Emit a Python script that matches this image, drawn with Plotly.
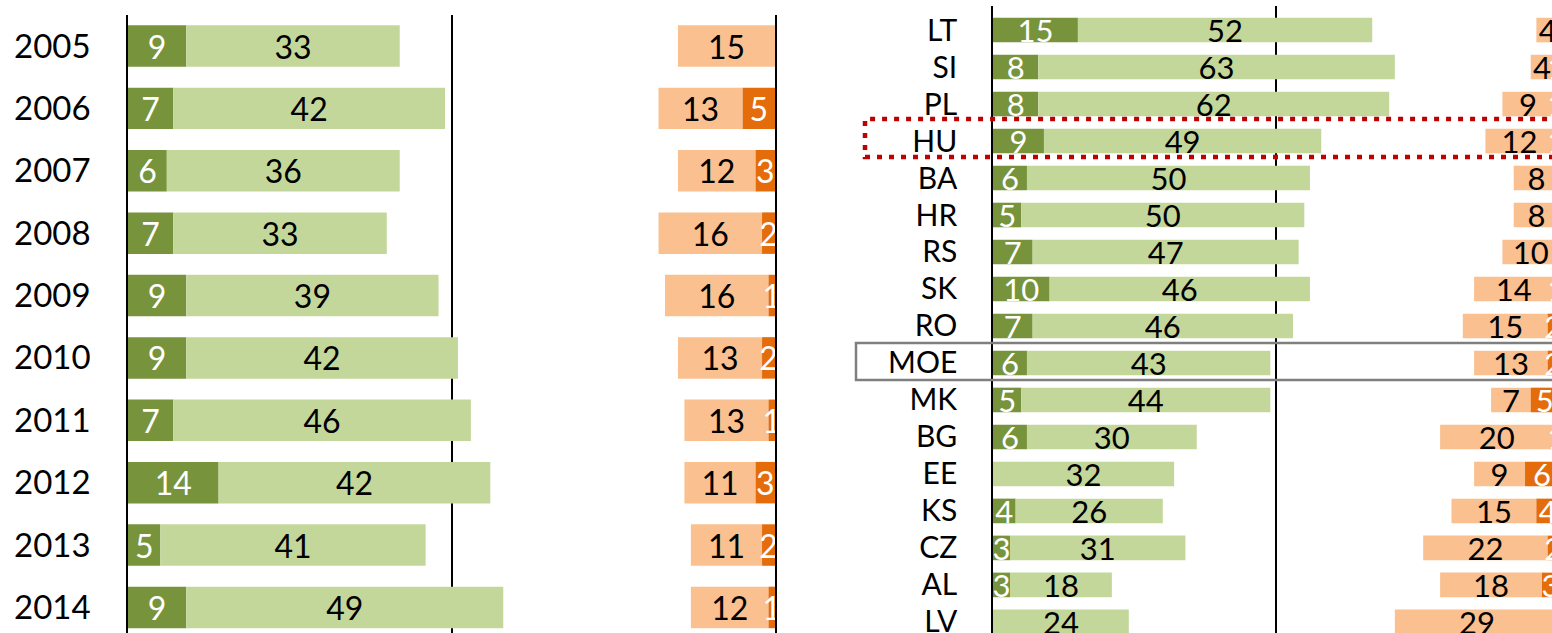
import plotly.graph_objects as go

# ---------------- data ----------------
years = ["2005", "2006", "2007", "2008", "2009", "2010", "2011", "2012", "2013", "2014"]
yr_dark_green = [9, 7, 6, 7, 9, 9, 7, 14, 5, 9]
yr_light_green = [33, 42, 36, 33, 39, 42, 46, 42, 41, 49]
yr_light_orange = [15, 13, 12, 16, 16, 13, 13, 11, 11, 12]
yr_dark_orange = [0, 5, 3, 2, 1, 2, 1, 3, 2, 1]

countries = ["LT", "SI", "PL", "HU", "BA", "HR", "RS", "SK", "RO", "MOE",
             "MK", "BG", "EE", "KS", "CZ", "AL", "LV"]
c_dark_green = [15, 8, 8, 9, 6, 5, 7, 10, 7, 6, 5, 6, 0, 4, 3, 3, 0]
c_light_green = [52, 63, 62, 49, 50, 50, 47, 46, 46, 43, 44, 30, 32, 26, 31, 18, 24]
c_light_orange = [4, 4, 9, 12, 8, 8, 10, 14, 15, 13, 7, 20, 9, 15, 22, 18, 29]
c_dark_orange = [0, 1, 1, 1, 0, 0, 0, 1, 2, 2, 5, 1, 6, 4, 2, 3, 0]
FULL = 100

# ---------------- style ----------------
W, H = 1552, 633
DARK_GREEN = "#77933C"
LIGHT_GREEN = "#C4D79B"
LIGHT_ORANGE = "#FAC090"
DARK_ORANGE = "#E46C0A"
FONT = "Lato"

fig = go.Figure()


def lbl(vals):
    return [str(v) if v else "" for v in vals]


def add_panel(cats, dg, lg, lo, do, xa, ya, fs):
    specs = [
        (dg, [0] * len(dg), DARK_GREEN, "white"),
        (lg, dg, LIGHT_GREEN, "black"),
        (lo, [FULL - d - l for d, l in zip(do, lo)], LIGHT_ORANGE, "black"),
        (do, [FULL - d for d in do], DARK_ORANGE, "white"),
    ]
    for vals, base, col, tcol in specs:
        fig.add_trace(go.Bar(
            y=cats, x=vals, base=base, orientation="h",
            marker=dict(color=col, line=dict(width=0)),
            text=lbl(vals), textposition="inside", insidetextanchor="middle",
            constraintext="none", textangle=0,
            textfont=dict(family=FONT, size=fs, color=tcol),
            xaxis=xa, yaxis=ya, hoverinfo="skip", showlegend=False,
        ))


add_panel(years, yr_dark_green, yr_light_green, yr_light_orange, yr_dark_orange, "x", "y", 32)
add_panel(countries, c_dark_green, c_light_green, c_light_orange, c_dark_orange, "x2", "y2", 31)

axis_common_x = dict(tickvals=[50], showticklabels=False, showgrid=True,
                     gridcolor="black", gridwidth=1.5, zeroline=False,
                     showline=False, ticks="", fixedrange=True, automargin=False)
axis_common_y = dict(type="category", showline=True, linecolor="black",
                     linewidth=1.5, showgrid=False, ticks="", zeroline=False,
                     fixedrange=True, automargin=False)

fig.update_layout(
    width=W, height=H,
    margin=dict(l=0, r=0, t=0, b=0, autoexpand=False),
    paper_bgcolor="white", plot_bgcolor="white",
    barmode="overlay", bargap=0.335,
    xaxis=dict(domain=[128 / W, 775 / W], range=[0, 100], anchor="y", **axis_common_x),
    yaxis=dict(domain=[0, 1 - 15 / H], anchor="x", categoryarray=years,
               categoryorder="array", range=[9.41, -0.497], mirror=True,
               ticklabelstandoff=29,
               tickfont=dict(family=FONT, size=33, color="black"), **axis_common_y),
    xaxis2=dict(domain=[993 / W, 1], range=[0, (W - 993) / 5.66], anchor="y2", **axis_common_x),
    yaxis2=dict(domain=[0, 1 - 6 / H], anchor="x2", categoryarray=countries,
                categoryorder="array", range=[16.3, -0.65], mirror=False,
                ticklabelstandoff=28,
                tickfont=dict(family=FONT, size=30, color="black"), **axis_common_y),
    shapes=[
        dict(type="rect", xref="paper", yref="paper",
             x0=865 / W, x1=1.02, y0=1 - 157 / H, y1=1 - 119 / H,
             line=dict(color="#C00000", width=4.5, dash="5px,7px"),
             fillcolor="rgba(0,0,0,0)", layer="above"),
        dict(type="rect", xref="paper", yref="paper",
             x0=856 / W, x1=1.02, y0=1 - 380 / H, y1=1 - 343 / H,
             line=dict(color="#7F7F7F", width=2.5),
             fillcolor="rgba(0,0,0,0)", layer="above"),
    ],
)

fig.write_html(
    "out.html",
    config={"displayModeBar": False},
    post_script="document.body.style.margin='0';document.body.style.overflow='hidden';",
)
